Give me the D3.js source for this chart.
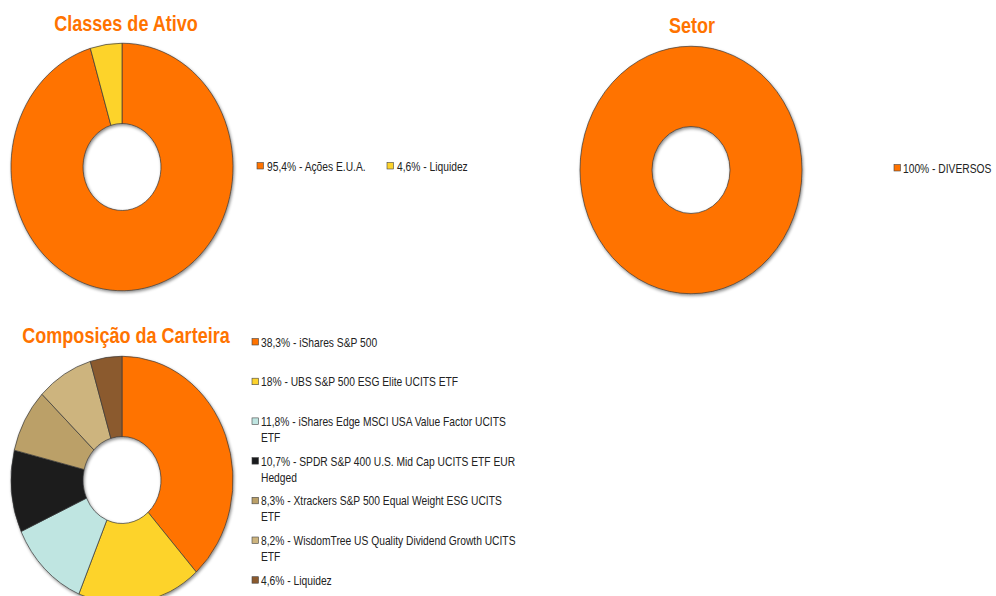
<!DOCTYPE html>
<html>
<head>
<meta charset="utf-8">
<script src="https://cdn.jsdelivr.net/npm/d3@7"></script>
<style>
  body { margin: 0; background: #fff; }
  .title { fill: #ff7300; font-family: "Liberation Sans", Arial, sans-serif; font-weight: bold; font-size: 22px; text-anchor: middle; }
  .legend text { fill: #222; font-family: "Liberation Sans", Arial, sans-serif; font-size: 13px; }
  .slice { stroke: #3a3a3a; stroke-width: 0.7px; vector-effect: non-scaling-stroke; }
</style>
</head>
<body>
<script>
// Classes de Ativo
const classLabels = ['95,4% -  Ações E.U.A.', '4,6% - Liquidez'];
const classValues = [95.4, 4.6];
const classColors = ['#ff7300', '#fdd32c'];

// Setor
const sectorLabels = ['100% - DIVERSOS'];
const sectorValues = [100];
const sectorColors = ['#ff7300'];

// Composição da Carteira
const holdingLabels = [
  '38,3% - iShares S&P 500',
  '18% - UBS S&P 500 ESG Elite UCITS ETF',
  '11,8% - iShares Edge MSCI USA Value Factor UCITS ETF',
  '10,7% - SPDR S&P 400 U.S. Mid Cap UCITS ETF EUR Hedged',
  '8,3% - Xtrackers S&P 500 Equal Weight ESG UCITS ETF',
  '8,2% - WisdomTree US Quality Dividend Growth UCITS ETF',
  '4,6% - Liquidez'
];
const holdingValues = [38.3, 18, 11.8, 10.7, 8.3, 8.2, 4.6];
const holdingColors = ['#ff7300', '#fdd32c', '#bfe5e1', '#1a1b1d', '#bba068', '#cdb47e', '#8b5a2e'];

const config = { width: 996, height: 596, rOuter: 111, rInner: 39, squash: 1.115, narrowTitle: 0.82, narrowLegend: 0.79 };

const svg = d3.select('body')
  .append('svg')
  .attr('width', config.width)
  .attr('height', config.height);

const defs = svg.append('defs');
defs.append('filter')
  .attr('id', 'shadow')
  .attr('x', '-10%').attr('y', '-10%').attr('width', '125%').attr('height', '125%')
  .append('feDropShadow')
  .attr('dx', 1).attr('dy', 1.5).attr('stdDeviation', 1.5)
  .attr('flood-color', '#000').attr('flood-opacity', 0.45);

const pie = d3.pie().sort(null).value(d => d);
const arc = d3.arc().innerRadius(config.rInner).outerRadius(config.rOuter);

function donut(values, colors, cx, cy) {
  const g = svg.append('g')
    .attr('transform', `translate(${cx},${cy}) scale(1,${config.squash})`)
    .attr('filter', 'url(#shadow)');
  g.selectAll('path')
    .data(pie(values))
    .join('path')
    .attr('class', 'slice')
    .attr('fill', (d, i) => colors[i])
    .attr('d', arc);
}

// the original font is condensed, so squeeze text horizontally
function narrowText(parent, cls, x, y, sx) {
  return parent.append('text')
    .attr('class', cls)
    .attr('transform', `translate(${x},${y}) scale(${sx},1)`);
}

function title(text, x, y) {
  narrowText(svg, 'title', x, y, config.narrowTitle).text(text);
}

function marker(g, x, y, color) {
  g.append('rect')
    .attr('x', x).attr('y', y - 3.5)
    .attr('width', 6.5).attr('height', 6.5)
    .attr('fill', color)
    .attr('stroke', '#444').attr('stroke-width', 0.6);
}

// top row
title('Classes de Ativo', 126, 31);
donut(classValues, classColors, 122, 167);
const leg1 = svg.append('g').attr('class', 'legend');
const leg1X = [257, 387];
classLabels.forEach((t, i) => {
  marker(leg1, leg1X[i], 166, classColors[i]);
  narrowText(leg1, null, leg1X[i] + 10, 166, config.narrowLegend).attr('dy', '0.35em').text(t);
});

title('Setor', 692, 33);
donut(sectorValues, sectorColors, 691, 170);
const leg2 = svg.append('g').attr('class', 'legend');
sectorLabels.forEach((t, i) => {
  marker(leg2, 894, 168, sectorColors[i]);
  narrowText(leg2, null, 903, 168, config.narrowLegend).attr('dy', '0.35em').text(t);
});

// bottom row
title('Composição da Carteira', 126, 343);
donut(holdingValues, holdingColors, 122, 480);
const leg3 = svg.append('g').attr('class', 'legend');
const maxW = 258;
holdingLabels.forEach((t, i) => {
  const y = 342 + i * 39.7;
  marker(leg3, 252, y, holdingColors[i]);
  const text = narrowText(leg3, null, 261, y, config.narrowLegend).attr('dy', '0.35em');
  const words = t.split(' ');
  let line = [];
  let tspan = text.append('tspan').attr('x', 0);
  words.forEach(w => {
    line.push(w);
    tspan.text(line.join(' '));
    if (tspan.node().getComputedTextLength() * config.narrowLegend > maxW && line.length > 1) {
      line.pop();
      tspan.text(line.join(' '));
      line = [w];
      tspan = text.append('tspan').attr('x', 0).attr('dy', 16).text(w);
    }
  });
});
</script>
</body>
</html>
